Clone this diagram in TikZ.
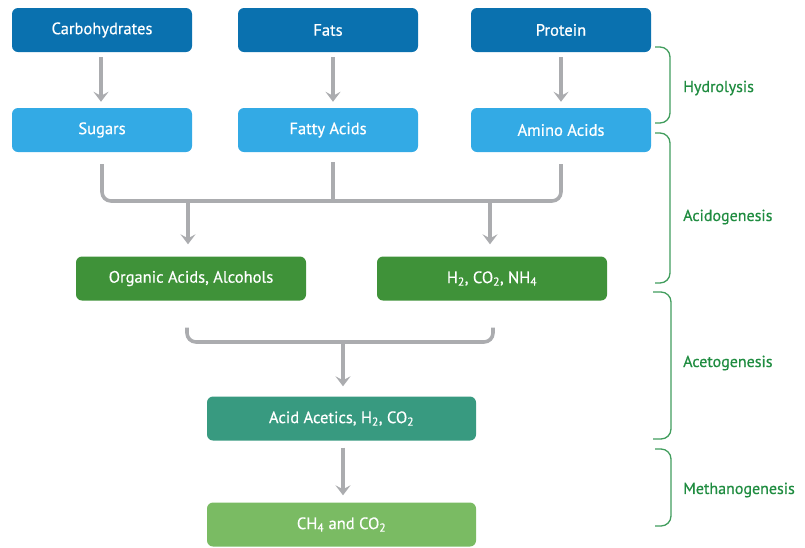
\documentclass[tikz,border=0pt]{standalone}
\usepackage{fontspec}
\setmainfont{PT Sans}
\newfontfamily\dinfont{PT Sans}[FakeBold=0.6]
\usetikzlibrary{arrows.meta}
\definecolor{dblue}{HTML}{0A71AF}
\definecolor{lblue}{HTML}{33AAE5}
\definecolor{dgreen}{HTML}{3F9239}
\definecolor{teal}{HTML}{389A80}
\definecolor{lgreen}{HTML}{7ABB63}
\definecolor{txtgreen}{HTML}{1F8C40}
\definecolor{arrgray}{HTML}{ABACAF}
\tikzset{
  box/.style={rounded corners=6pt, minimum height=44pt, text=white, font=\dinfont\fontsize{16.5}{18}\selectfont, inner sep=0pt},
  w180/.style={minimum width=180pt},
  w230/.style={minimum width=230pt},
  w269/.style={minimum width=269pt},
  ln/.style={draw=arrgray, line width=3.6pt, rounded corners=9pt},
  arr/.style={draw=arrgray, line width=3.6pt, -{Stealth[length=10pt, width=15pt, inset=4pt]}},
  brk/.style={draw=txtgreen!85, line width=1.3pt, rounded corners=10pt},
  phase/.style={anchor=west, text=txtgreen, font=\dinfont\fontsize{16}{18}\selectfont, inner sep=0pt}
}
\newcommand{\sbs}[1]{\textsubscript{#1}}
\begin{document}
\begin{tikzpicture}[x=1pt, y=-1pt]
\useasboundingbox (0,0) rectangle (805,547);
% top row
\node[box, w180, fill=dblue] (carb) at (102,30) {Carbohydrates};
\node[box, w180, fill=dblue] (fats) at (328,30) {Fats};
\node[box, w180, fill=dblue] (prot) at (561,30) {Protein};
% second row
\node[box, w180, fill=lblue] (sug) at (102,130) {Sugars};
\node[box, w180, fill=lblue] (fatty) at (328,130) {Fatty Acids};
\node[box, w180, fill=lblue] (amino) at (561,130) {Amino Acids};
% third row
\node[box, w230, fill=dgreen] (org) at (191,278.5) {Organic Acids, Alcohols};
\node[box, w230, fill=dgreen] (gas) at (492,278.5) {H\sbs{2}, CO\sbs{2}, NH\sbs{4}};
% fourth, fifth
\node[box, w269, fill=teal] (acid) at (341.5,418.5) {Acid Acetics, H\sbs{2}, CO\sbs{2}};
\node[box, w269, fill=lgreen] (ch4) at (341.5,524.5) {CH\sbs{4} and CO\sbs{2}};
% hydrolysis arrows
\draw[arr, shorten <=5pt, shorten >=6pt] ([xshift=-1pt]carb.south) -- ([xshift=-1pt]sug.north);
\draw[arr, shorten <=5pt, shorten >=6pt] ([xshift=5pt]fats.south) -- ([xshift=5pt]fatty.north);
\draw[arr, shorten <=5pt, shorten >=6pt] (prot.south) -- (amino.north);
% acidogenesis merge
\coordinate (bar) at (333,201);
\draw[ln] ([yshift=-12pt]sug.south) -- (sug.south |- bar) -- (amino.south |- bar) -- ([yshift=-12pt]amino.south);
\draw[ln, rounded corners=0pt] ([xshift=5pt, yshift=-10pt]fatty.south) -- ([xshift=5pt]fatty.south |- bar);
\draw[arr, shorten >=12pt] ([xshift=-3pt]org.north |- bar) -- ([xshift=-3pt]org.north);
\draw[arr, shorten >=12pt] ([xshift=-2pt]gas.north |- bar) -- ([xshift=-2pt]gas.north);
% acetogenesis merge
\coordinate (bar2) at (343,342);
\draw[ln] ([xshift=-4pt, yshift=-27pt]org.south) -- ([xshift=-4pt]org.south |- bar2) -- ([xshift=1pt]gas.south |- bar2) -- ([xshift=1pt, yshift=-27pt]gas.south);
\draw[arr, shorten >=10pt] ([xshift=1.5pt]acid.north |- bar2) -- ([xshift=1.5pt]acid.north);
% methanogenesis arrow
\draw[arr, shorten <=7pt, shorten >=7pt] ([xshift=1.5pt]acid.south) -- ([xshift=1.5pt]ch4.north);
% brackets
\draw[brk] (655,47) -- (670,47) -- (670,123) -- (655,123);
\draw[brk] (655,133) -- (670,133) -- (670,283) -- (655,283);
\draw[brk] (653,292) -- (671,292) -- (671,439) -- (653,439);
\draw[brk] (655,449) -- (671,449) -- (671,526) -- (655,526);
\node[phase] (hyd) at (683,88) {Hydrolysis};
\node[phase] (acg) at (683,217) {Acidogenesis};
\node[phase] (act) at (683,363) {Acetogenesis};
\node[phase] (met) at (683,490) {Methanogenesis};
\end{tikzpicture}
\end{document}
